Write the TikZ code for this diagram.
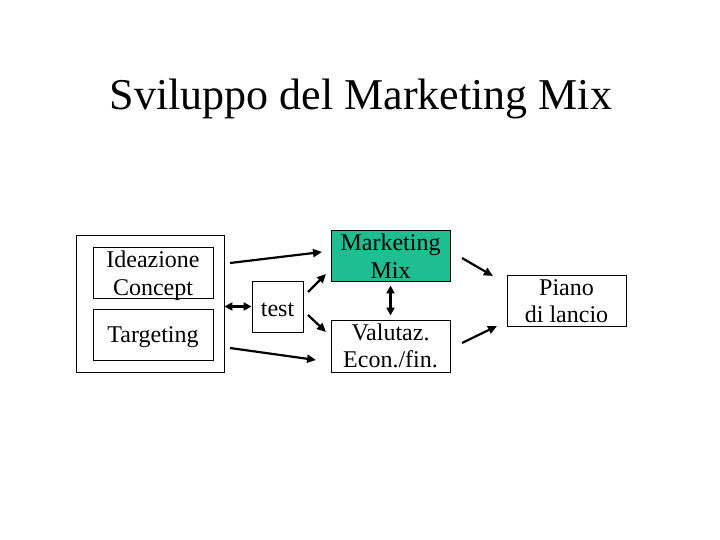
\documentclass[tikz,border=0pt]{standalone}
\usepackage{fontspec}
\setmainfont{Liberation Serif}
\usetikzlibrary{arrows.meta}
\definecolor{mmgreen}{RGB}{30,190,145}
\tikzset{
  box/.style={draw=black, line width=0.9pt, inner sep=0pt},
  txt/.style={anchor=base, inner sep=0pt, font=\fontsize{24}{29}\selectfont},
  arr/.style={line width=2.2pt, -{Triangle[length=9pt,width=8pt]}},
  darr/.style={line width=2.2pt, {Triangle[length=8pt,width=8pt]}-{Triangle[length=8pt,width=8pt]}}
}
\begin{document}
\begin{tikzpicture}[x=1pt,y=-1pt]
\useasboundingbox (0,0) rectangle (720,540);
\node[anchor=base, inner sep=0pt, font=\fontsize{44}{50}\selectfont] (title) at (361,110) {Sviluppo del Marketing Mix};
% boxes
\node[box, minimum width=148pt, minimum height=137pt] (outer) at (150,303.5) {};
\node[box, minimum width=120pt, minimum height=51pt] (idea) at (153,272.5) {};
\node[box, minimum width=120pt, minimum height=51pt] (targ) at (153,334.5) {};
\node[box, minimum width=51pt, minimum height=51pt] (test) at (277.5,306.5) {};
\node[box, fill=mmgreen, minimum width=119pt, minimum height=51pt] (mm) at (390.5,255.5) {};
\node[box, minimum width=119pt, minimum height=52pt] (val) at (390.5,346) {};
\node[box, minimum width=119pt, minimum height=51pt] (piano) at (566.5,300.5) {};
% texts
\node[txt] (t1) at (153,267) {Ideazione};
\node[txt] (t2) at (153,295) {Concept};
\node[txt] (t3) at (153,342) {Targeting};
\node[txt] (t4) at (277.5,316) {test};
\node[txt] (t5) at (390.5,250) {Marketing};
\node[txt] (t6) at (390.5,278) {Mix};
\node[txt] (t7) at (390.5,340) {Valutaz.};
\node[txt] (t8) at (390.5,367) {Econ./fin.};
\node[txt] (t9) at (566.5,295) {Piano};
\node[txt] (t10) at (566.5,322) {di lancio};
% connectors
\coordinate (a1s) at (230,263); \coordinate (a1e) at (322,252);
\coordinate (a2s) at (230,348); \coordinate (a2e) at (316,360);
\draw[arr] (a1s) -- (a1e);
\draw[arr] (a2s) -- (a2e);
\draw[darr] (outer.east |- test.west) -- (test.west);
\coordinate (c1s) at (308,292); \coordinate (c1e) at (326,274);
\coordinate (c2s) at (308,315); \coordinate (c2e) at (326,332);
\draw[arr] (c1s) -- (c1e);
\draw[arr] (c2s) -- (c2e);
\draw[darr] ([yshift=-4pt]mm.south) -- ([yshift=4pt]val.north);
\coordinate (b1s) at (462,258); \coordinate (b1e) at (493,276);
\coordinate (b2s) at (462,343); \coordinate (b2e) at (497,326);
\draw[arr] (b1s) -- (b1e);
\draw[arr] (b2s) -- (b2e);
\end{tikzpicture}
\end{document}
